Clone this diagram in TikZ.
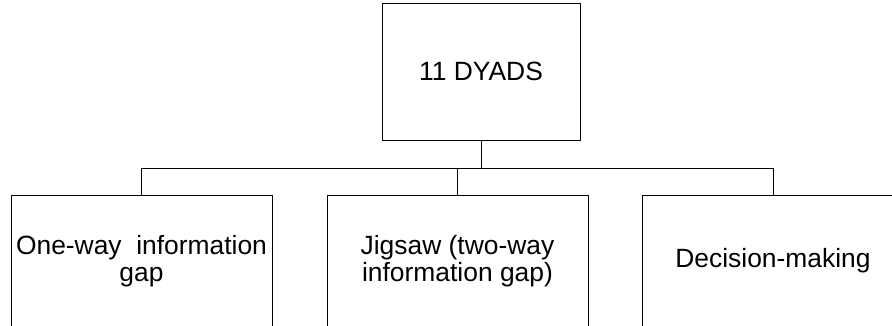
\documentclass[tikz,border=0pt]{standalone}
\usepackage{fontspec}
\setmainfont{Liberation Sans}
\begin{document}
\begin{tikzpicture}[x=1pt,y=-1pt,
  boxnode/.style={draw=black,line width=1pt,inner sep=0pt,
    minimum width=261pt,align=center,
    font=\fontsize{26.4}{27}\selectfont},
  link/.style={draw=black,line width=1pt}]
  \useasboundingbox (0,0) rectangle (892,325);
  \clip (0,0) rectangle (892,325);
  % root box
  \node[boxnode,minimum width=198pt,minimum height=137pt] (root) at (481,71.5) {11 DYADS};
  % three task types
  \node[boxnode,minimum height=132pt] (oneway) at (141.5,261) {One-way\ \ information\\gap};
  \node[boxnode,minimum height=132pt] (jigsaw) at (457.5,261) {Jigsaw (two-way\\information gap)};
  \node[boxnode,minimum height=132pt] (decision) at (773,261) {Decision-making};
  % tree connectors
  \coordinate (busL) at (141.5,168);
  \coordinate (busR) at (773,168);
  \draw[link] (oneway.north) -- (busL) -- (busR) -- (decision.north);
  \draw[link] (jigsaw.north) -- (jigsaw.north |- busL);
  \draw[link] (root.south) -- (root.south |- busL);
\end{tikzpicture}
\end{document}
